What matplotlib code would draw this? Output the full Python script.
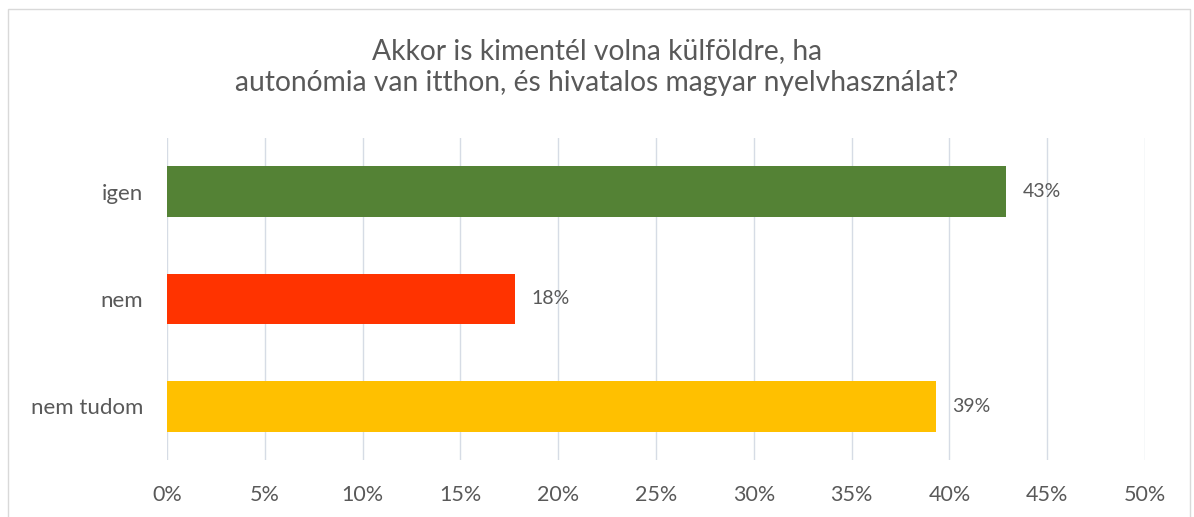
import matplotlib

matplotlib.use("Agg")
import matplotlib.pyplot as plt
from matplotlib.patches import Rectangle

categories = ["igen", "nem", "nem tudom"]
values = [42.9, 17.8, 39.3]
labels = ["43%", "18%", "39%"]
colors = ["#548235", "#FF3300", "#FFC000"]
xticks = [0, 5, 10, 15, 20, 25, 30, 35, 40, 45, 50]

title = ("Akkor is kimentél volna külföldre, ha\n"
         "autonómia van itthon, és hivatalos magyar nyelvhasználat?")

plt.rcParams["font.family"] = ["Lato", "DejaVu Sans"]
text_color = "#595959"

fig = plt.figure(figsize=(11.94, 5.17), dpi=100)
W, H = 1194, 517
# plot area in pixels: x 167..1145, y 138..460 (from top)
ax = fig.add_axes([167 / W, 1 - 460 / H, (1145 - 167) / W, (460 - 138) / H])

# outer chart border
fig.patches.append(Rectangle((8 / W, -0.05), (1190 - 8) / W, 1 - 9 / H + 0.05,
                             transform=fig.transFigure, fill=False,
                             edgecolor="#D9D9D9", lw=1))

ypos = range(len(categories))
ax.barh(ypos, values, height=0.47, color=colors, zorder=3)
for y, v, lab in zip(ypos, values, labels):
    ax.annotate(lab, xy=(v, y), xytext=(12, 0), textcoords="offset points",
                va="center", ha="left", fontsize=14, color=text_color)

ax.set_ylim(2.5, -0.5)
ax.set_xlim(0, 50)
ax.set_yticks(list(ypos))
ax.set_yticklabels(categories, fontsize=16, color=text_color)
ax.set_xticks(xticks)
ax.set_xticklabels([f"{t}%" for t in xticks], fontsize=15.5, color=text_color)
ax.tick_params(length=0)
ax.tick_params(axis="y", pad=17)
ax.tick_params(axis="x", pad=18)
ax.grid(axis="x", color="#D6DCE5", lw=1, zorder=0)
for s in ax.spines.values():
    s.set_visible(False)

fig.text(0.5, 1 - 67 / H, title, ha="center", va="center", fontsize=20.3,
         color=text_color, linespacing=1.3)

fig.savefig("out.png", dpi=100)
